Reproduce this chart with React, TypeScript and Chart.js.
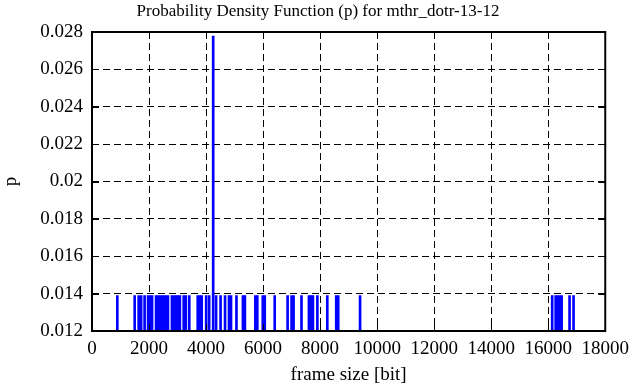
import React, { useEffect, useRef } from "react";
import { Chart, registerables } from "chart.js";

Chart.register(...registerables);

// frame sizes [bit] observed (each with probability 1/72 unless listed in peak arrays)
const frameSizes: number[] = [
  888, 1497, 1637, 1724, 1845, 1967, 2037, 2106, 2246, 2315,
  2385, 2455, 2524, 2594, 2664, 2803, 2873, 2943, 3012, 3082,
  3217, 3291, 3412, 3708, 3778, 3848, 4004, 4109, 4352, 4509,
  4666, 4805, 4875, 5066, 5293, 5362, 5728, 5798, 5989, 6059,
  6407, 6860, 6999, 7068, 7347, 7608, 7678, 7748, 7904, 8252,
  8566, 8635, 9401, 16139, 16261, 16330, 16400, 16470, 16748, 16888,
];
const frameProb: number = 0.013889;
const peakSizes: number[] = [4250];
const peakProbs: number[] = [0.027778];

const xTicks: number[] = [0, 2000, 4000, 6000, 8000, 10000, 12000, 14000, 16000, 18000];
const yTicks: string[] = ["0.012", "0.014", "0.016", "0.018", "0.02", "0.022", "0.024", "0.026", "0.028"];

const titleText = "Probability Density Function (p) for mthr_dotr-13-12";
const xLabel = "frame size [bit]";
const yLabel = "p";

const FONT = "'Liberation Serif', 'Times New Roman', serif";

export default function App() {
  const ref = useRef<HTMLCanvasElement | null>(null);
  useEffect(() => {
    if (!ref.current) return;
    const pts = frameSizes
      .map((x) => ({ x, y: frameProb }))
      .concat(peakSizes.map((x, i) => ({ x, y: peakProbs[i] })));

    const yMin = parseFloat(yTicks[0]);
    const yMax = parseFloat(yTicks[yTicks.length - 1]);

    const framePlugin = {
      id: "gpFrame",
      afterDatasetsDraw(chart: any) {
        const { ctx, chartArea: a, scales } = chart;
        ctx.save();
        ctx.strokeStyle = "#000";
        ctx.lineWidth = 1;
        ctx.setLineDash([]);
        const tl = 7;
        ctx.beginPath();
        xTicks.forEach((v) => {
          const px = Math.round(scales.x.getPixelForValue(v)) + 0.5;
          ctx.moveTo(px, a.bottom);
          ctx.lineTo(px, a.bottom - tl);
          ctx.moveTo(px, a.top);
          ctx.lineTo(px, a.top + tl);
        });
        yTicks.forEach((s) => {
          const py = Math.round(scales.y.getPixelForValue(parseFloat(s))) + 0.5;
          ctx.moveTo(a.left, py);
          ctx.lineTo(a.left + tl, py);
          ctx.moveTo(a.right, py);
          ctx.lineTo(a.right - tl, py);
        });
        ctx.stroke();
        ctx.lineWidth = 2;
        ctx.strokeRect(a.left, a.top, a.right - a.left, a.bottom - a.top);
        ctx.restore();
      },
    };

    const chart = new Chart(ref.current, {
      type: "bar",
      data: {
        datasets: [
          {
            data: pts as any,
            backgroundColor: "#0000ff",
            borderWidth: 0,
            barThickness: 2,
            grouped: false,
          } as any,
        ],
      },
      options: {
        animation: false,
        responsive: false,
        layout: { padding: { left: 0, right: 0, top: 0, bottom: 0 } },
        plugins: {
          legend: { display: false },
          tooltip: { enabled: false },
          title: {
            display: true,
            text: titleText,
            color: "#000",
            font: { family: FONT, size: 17, weight: "normal" },
            padding: { top: 1, bottom: 10.6 },
          },
        },
        scales: {
          x: {
            type: "linear",
            min: xTicks[0],
            max: xTicks[xTicks.length - 1],
            offset: false,
            afterBuildTicks: (s: any) => {
              s.ticks = xTicks.map((v) => ({ value: v }));
            },
            afterFit: (s: any) => {
              s.height = 56;
            },
            ticks: {
              color: "#000",
              font: { family: FONT, size: 19 },
              padding: 7,
              maxRotation: 0,
              autoSkip: false,
              callback: (v: any) => String(v),
            },
            grid: {
              offset: false,
              drawTicks: false,
              color: (c: any) =>
                c.tick && (c.tick.value === xTicks[0] || c.tick.value === xTicks[xTicks.length - 1])
                  ? "rgba(0,0,0,0)"
                  : "#000",
              lineWidth: 1,
            },
            border: { display: false, dash: [7, 4] },
            title: {
              display: true,
              text: xLabel,
              color: "#000",
              font: { family: FONT, size: 19 },
              padding: { top: 0, bottom: 1 },
            },
          },
          y: {
            type: "linear",
            min: yMin,
            max: yMax,
            afterBuildTicks: (s: any) => {
              s.ticks = yTicks.map((t) => ({ value: parseFloat(t) }));
            },
            afterFit: (s: any) => {
              s.width = 92;
            },
            ticks: {
              color: "#000",
              font: { family: FONT, size: 19 },
              padding: 9,
              autoSkip: false,
              callback: (_v: any, i: number) => yTicks[i],
            },
            grid: {
              drawTicks: false,
              color: (c: any) =>
                c.tick && (c.index === 0 || c.index === yTicks.length - 1) ? "rgba(0,0,0,0)" : "#000",
              lineWidth: 1,
            },
            border: { display: false, dash: [7, 4] },
            title: {
              display: true,
              text: yLabel,
              color: "#000",
              font: { family: FONT, size: 19 },
              padding: { top: 0, bottom: 0 },
            },
          },
          yRight: {
            type: "linear",
            position: "right",
            display: true,
            min: 0,
            max: 1,
            afterFit: (s: any) => {
              s.width = 27;
            },
            ticks: { display: false },
            grid: { display: false, drawTicks: false },
            border: { display: false },
          },
        },
      } as any,
      plugins: [framePlugin],
    });
    return () => chart.destroy();
  }, []);

  return (
    <div style={{ position: "fixed", left: 0, top: 0, width: 636, height: 387, background: "#fff" }}>
      <canvas ref={ref} width={636} height={387} style={{ width: 636, height: 387 }} />
    </div>
  );
}
